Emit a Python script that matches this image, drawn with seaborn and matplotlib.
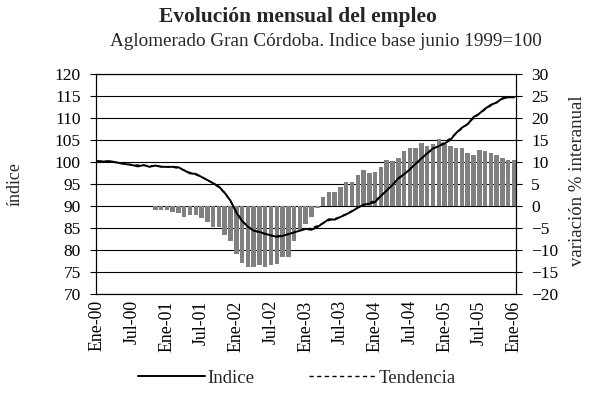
import numpy as np
import pandas as pd
import matplotlib
matplotlib.use("Agg")
import matplotlib.pyplot as plt
from matplotlib.lines import Line2D
from matplotlib.ticker import MultipleLocator, FixedLocator
import seaborn as sns

# Monthly labels, January 2000 to January 2006
meses = ["Ene", "Feb", "Mar", "Abr", "May", "Jun", "Jul", "Ago", "Sep", "Oct", "Nov", "Dic"]
periodos = [f"{meses[m]}-{a:02d}" for a in range(0, 6) for m in range(12)] + ["Ene-06"]

# Employment index (base June 1999 = 100)
indice = [100.2, 100.1, 100.2, 100.0, 99.7, 99.5, 99.3, 99.0, 99.3, 98.9, 99.2, 98.9,
          98.9, 98.9, 98.8, 98.1, 97.4, 97.3, 96.6, 95.9, 95.2, 94.4, 93.0, 91.2,
          88.5, 86.6, 85.3, 84.4, 84.1, 83.7, 83.3, 83.0, 83.2, 83.6, 84.0, 84.4,
          84.8, 84.6, 85.2, 86.1, 87.0, 86.9, 87.5, 88.1, 88.8, 89.6, 90.3, 90.5,
          90.9, 92.3, 93.5, 94.8, 96.3, 97.2, 98.3, 99.6, 100.8, 102.0, 103.1, 103.6,
          104.2, 105.0, 106.6, 107.8, 108.6, 110.2, 111.0, 112.1, 113.0, 113.5, 114.5, 114.7,
          114.7]

# Trend component
tendencia = [100.2, 100.2, 100.1, 99.9, 99.7, 99.5, 99.4, 99.3, 99.2, 99.2, 99.1, 99.0,
             98.9, 98.8, 98.6, 98.1, 97.6, 97.1, 96.6, 95.9, 95.1, 94.2, 92.9, 91.1,
             88.7, 86.7, 85.3, 84.4, 84.0, 83.6, 83.3, 83.2, 83.3, 83.6, 84.0, 84.4,
             84.7, 85.0, 85.5, 86.1, 86.7, 87.1, 87.6, 88.2, 88.9, 89.6, 90.2, 90.7,
             91.3, 92.3, 93.5, 94.8, 96.1, 97.2, 98.4, 99.6, 100.8, 101.9, 102.9, 103.7,
             104.5, 105.4, 106.5, 107.6, 108.7, 109.9, 110.9, 111.9, 112.8, 113.6, 114.3, 114.7,
             114.8]

# Year-on-year % change, November 2000 onwards
inicio_var = 10
variacion = [-0.9, -0.9,
             -0.9, -1.4, -1.5, -2.4, -2.0, -2.0, -2.7, -3.6, -4.7, -4.7, -6.7, -7.9,
             -10.8, -13.0, -13.9, -13.9, -13.4, -13.9, -13.5, -13.2, -11.7, -11.7, -7.9, -5.5,
             -4.2, -2.4, -0.4, 2.1, 3.2, 3.2, 4.4, 5.5, 5.5, 7.0, 8.2, 7.4,
             7.7, 8.9, 10.5, 10.2, 10.9, 12.6, 13.2, 13.2, 14.3, 13.7, 14.1, 15.2,
             14.2, 13.7, 13.2, 13.2, 12.1, 11.6, 12.7, 12.6, 12.0, 11.6, 10.9, 10.5,
             10.5]

n = len(periodos)
df = pd.DataFrame({"pos": np.arange(n), "periodo": periodos,
                   "Indice": indice, "Tendencia": tendencia})
df_var = pd.DataFrame({"pos": np.arange(inicio_var, n), "variacion": variacion})

sns.set_theme(style="white")
plt.rcParams["font.family"] = ["Liberation Serif", "DejaVu Serif"]
plt.rcParams["axes.edgecolor"] = "black"

fig = plt.figure(figsize=(5.93, 3.95), dpi=100)
ax = fig.add_axes([96 / 593, 1 - 294 / 395, 420 / 593, 220 / 395])
ax2 = ax.twinx()

# Bars (right axis) behind the index lines
sns.barplot(data=df_var, x="pos", y="variacion", native_scale=True,
            color="#808080", saturation=1, width=0.78, edgecolor="none", ax=ax2)
ax2.set_ylim(-20, 30)
ax2.yaxis.set_major_locator(MultipleLocator(5))
ax2.grid(True, axis="y", color="black", linewidth=0.8)
ax2.set_axisbelow(True)
ax2.tick_params(axis="y", direction="out", length=4, width=0.8, labelsize=12.5, pad=7, colors="black")
ax2.set_ylabel("")
fig.text(577 / 593, 1 - 181 / 395, "variación % interanual", rotation=90,
         ha="center", va="center", fontsize=13.5)

ax.set_zorder(ax2.get_zorder() + 1)
ax.patch.set_visible(False)

sns.lineplot(data=df, x="pos", y="Tendencia", color="black", linewidth=1.0,
             linestyle=(0, (3, 2.5)), ax=ax)
sns.lineplot(data=df, x="pos", y="Indice", color="black", linewidth=1.4, ax=ax)

ax.set_ylim(70, 120)
ax.yaxis.set_major_locator(MultipleLocator(5))
ax.set_xlim(-0.25, n - 1 + 0.35)
ax.set_xticks(np.arange(0, n, 6))
ax.set_xticklabels([periodos[i] for i in range(0, n, 6)], rotation=90, fontsize=12.8)
ax.xaxis.set_minor_locator(FixedLocator(np.arange(n)))
ax.tick_params(axis="x", which="both", direction="inout", length=5, width=0.8, pad=2, colors="black")
ax.tick_params(axis="y", direction="out", length=4, width=0.8, labelsize=12.5, pad=7, colors="black")
ax.set_xlabel("")
ax.set_ylabel("")
ax2.set_xlabel("")
fig.text(15 / 593, 1 - 184 / 395, "índice", rotation=90,
         ha="center", va="center", fontsize=13)

for a in (ax, ax2):
    for s in a.spines.values():
        s.set_linewidth(0.8)
        s.set_color("black")

fig.text(298 / 593, 1 - 17 / 395, "Evolución mensual del empleo", ha="center", va="center",
         fontsize=15.5, fontweight="bold")
fig.text(326 / 593, 1 - 42 / 395, "Aglomerado Gran Córdoba. Indice base junio 1999=100",
         ha="center", va="center", fontsize=13.8)

handles = [Line2D([], [], color="black", linewidth=1.4),
           Line2D([], [], color="black", linewidth=1.0, linestyle=(0, (3, 2.5)))]
fig.legend(handles, ["Indice", "Tendencia"], loc="center", bbox_to_anchor=(297 / 593, 1 - 378 / 395),
           ncol=2, frameon=False, fontsize=13.5, handlelength=3.55, handletextpad=0.15,
           columnspacing=2.9)

fig.savefig("out.png", dpi=100)
